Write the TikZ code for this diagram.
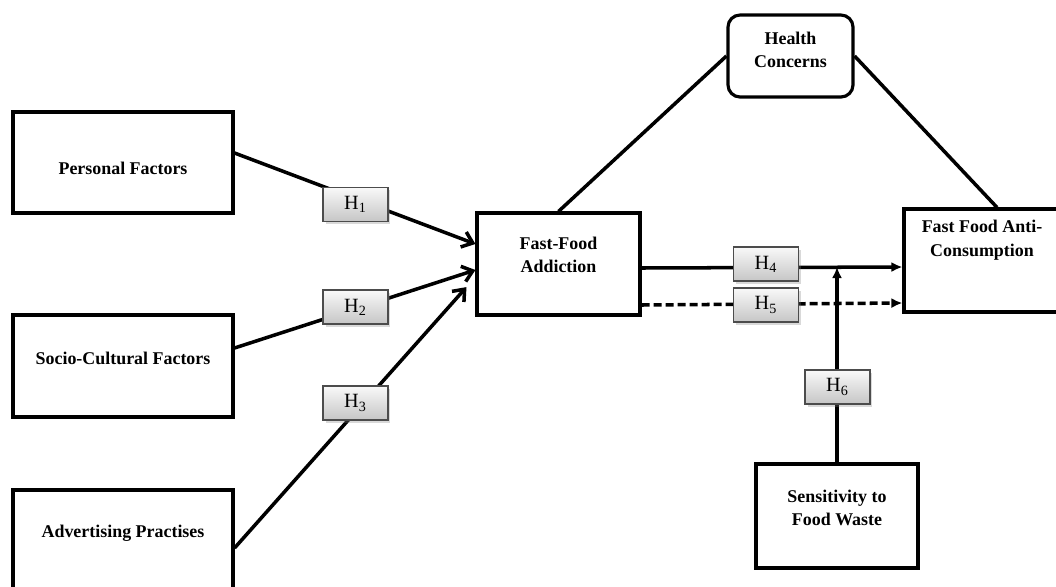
\documentclass[tikz,border=0pt]{standalone}
\usepackage{fontspec}
\setmainfont{Liberation Serif}
\usepackage{tikz}
\usetikzlibrary{calc, positioning, arrows.meta, shadows}

\begin{document}
\begin{tikzpicture}
			[x=0.02cm, y=-0.02cm,
			 fbox/.style={draw, line width=1.8pt, inner sep=0pt},
			 ftext/.style={font=\bfseries\fontsize{10.2}{13.5}\selectfont, align=center, inner sep=0pt},
			 hyp/.style={draw=black!70, line width=0.6pt, top color=gray!5, bottom color=gray!45,
			   minimum width=1.3cm, minimum height=0.68cm, inner sep=0pt,
			   font=\fontsize{11.5}{12}\selectfont,
			   drop shadow={opacity=0.3, shadow xshift=0.05cm, shadow yshift=-0.05cm}},
			 edge/.style={line width=2pt},
			 barb/.style={-{Straight Barb[length=0.2cm, width=0.32cm]}},
			 tip/.style={-{Latex[length=0.22cm, width=0.2cm]}}]
		\useasboundingbox (0,0) rectangle (1056,586);
		\clip (0,0) rectangle (1056,586);
		% nodes %
		\node[fbox, minimum width=4.4cm, minimum height=2.02cm] (pf) at (123,162.5) {};
		\node[ftext] (pf-t) at (123,168) {Personal Factors};
		\node[fbox, minimum width=4.4cm, minimum height=2.04cm] (sc) at (123,366) {};
		\node[ftext] (sc-t) at (123,358) {Socio-Cultural Factors};
		\node[fbox, minimum width=4.4cm, minimum height=2.2cm] (ap) at (123,545) {};
		\node[ftext] (ap-t) at (123,533) {Advertising Practises};
		\node[fbox, minimum width=3.26cm, minimum height=2.04cm] (fa) at (558.5,264) {};
		\node[ftext] (fa-t) at (558.5,255) {Fast-Food\\Addiction};
		\node[fbox, rounded corners=0.24cm, minimum width=2.5cm, minimum height=1.64cm] (hc) at (790.5,56) {};
		\node[ftext] (hc-t) at (790.5,50) {Health\\Concerns};
		\node[fbox, minimum width=3.12cm, minimum height=2.06cm] (ac) at (982,260.5) {};
		\node[ftext] (ac-t) at (982,240) {Fast Food Anti-\\Consumption};
		\node[fbox, minimum width=3.24cm, minimum height=2.08cm] (sw) at (837,516) {};
		\node[ftext] (sw-t) at (837,508) {Sensitivity to\\Food Waste};
		\coordinate (mod) at (837,267);

		% edges %
		\draw[edge, barb] ($(pf.east)+(0,-9.5)$) -- ($(fa.west)+(0,-20)$);
		\draw[edge, barb] ($(sc.east)+(0,-18)$) -- ($(fa.west)+(0,6)$);
		\draw[edge, barb, shorten >=0.27cm] ($(ap.east)+(0,3)$) -- ($(fa.west)+(0,13)$);
		\draw[edge, tip] ($(fa.east)+(0,4)$) -- ($(ac.west)+(0,6.5)$);
		\draw[edge, tip, dash pattern=on 0.16cm off 0.08cm] ($(fa.east)+(0,41)$) -- ($(ac.west)+(0,42.5)$);
		\draw[edge, tip] (sw.north) -- (mod);
		\draw[edge] (fa.north) -- (hc.west);
		\draw[edge] (hc.east) -- ($(ac.north)+(15,0)$);

		% labels %
		\node[hyp] (h1) at (355.5,204.5) {H\textsubscript{1}};
		\node[hyp] (h2) at (355.5,307) {H\textsubscript{2}};
		\node[hyp] (h3) at (355.5,403) {H\textsubscript{3}};
		\node[hyp] (h4) at (766,264) {H\textsubscript{4}};
		\node[hyp] (h5) at (766,305) {H\textsubscript{5}};
		\node[hyp] (h6) at (837.5,387) {H\textsubscript{6}};
		\end{tikzpicture}
\end{document}
